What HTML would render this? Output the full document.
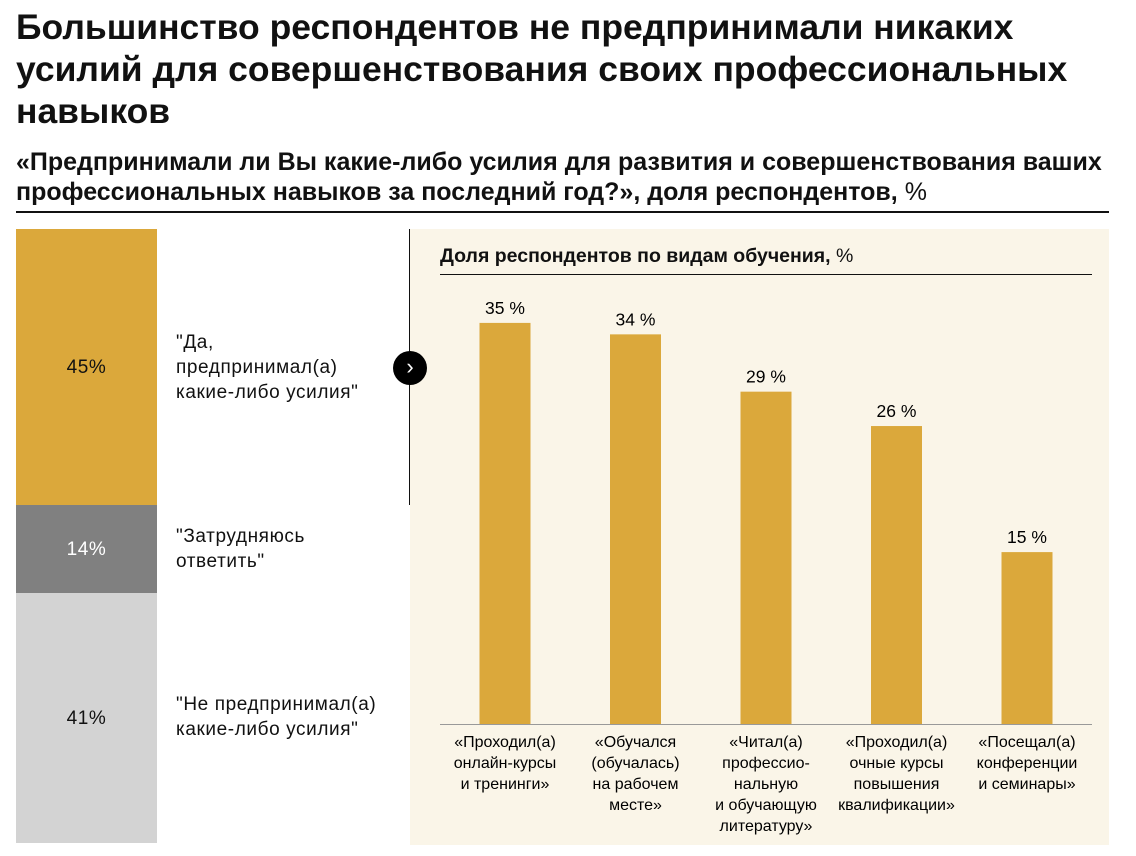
<!DOCTYPE html>
<html><head><meta charset="utf-8">
<style>
body{margin:0;width:1136px;height:856px;background:#fff;font-family:"Liberation Sans","Noto Sans CJK SC",sans-serif;color:#111;position:relative;overflow:hidden}
.abs{position:absolute}
h1{position:absolute;left:16px;top:6px;margin:0;font-size:35.5px;line-height:42px;font-weight:bold;width:1120px;white-space:nowrap}
h2{position:absolute;left:16px;top:147px;margin:0;font-size:25px;line-height:30px;font-weight:bold;width:1120px;white-space:nowrap}
.lbl{font-size:19px;line-height:25px;letter-spacing:0.6px}
</style></head><body>
<h1>Большинство респондентов не предпринимали никаких<br>усилий для совершенствования своих профессиональных<br>навыков</h1>
<h2>«Предпринимали ли Вы какие-либо усилия для развития и совершенствования ваших<br>профессиональных навыков за последний год?», доля респондентов, <span style="font-weight:normal">%</span></h2>
<div class="abs" style="left:16px;top:211px;width:1093px;height:2px;background:#111"></div>
<div class="abs" style="left:410px;top:229px;width:699px;height:616px;background:#faf5e8"></div>
<div class="abs" style="left:409px;top:229px;width:1px;height:276px;background:#111"></div>
<div class="abs" style="left:160px;top:229px;width:249px;height:276px;background:#fff"></div>
<div class="abs" style="left:393px;top:351px;width:34px;height:34px;border-radius:50%;background:#000;color:#fff;text-align:center;font-size:22px;line-height:32px">›</div>

<div class="abs" style="left:16px;top:229px;width:141px;height:276px;background:#dba83b"></div>
<div class="abs lbl" style="left:16px;top:355px;width:141px;text-align:center">45%</div>
<div class="abs" style="left:16px;top:505px;width:141px;height:88px;background:#808080"></div>
<div class="abs lbl" style="left:16px;top:537px;width:141px;text-align:center;color:#fff">14%</div>
<div class="abs" style="left:16px;top:593px;width:141px;height:250px;background:#d3d3d3"></div>
<div class="abs lbl" style="left:16px;top:706px;width:141px;text-align:center">41%</div>

<div class="abs lbl" style="left:176px;top:330px">"Да,<br>предпринимал(а)<br>какие-либо усилия"</div>
<div class="abs lbl" style="left:176px;top:524px">"Затрудняюсь<br>ответить"</div>
<div class="abs lbl" style="left:176px;top:692px">"Не предпринимал(а)<br>какие-либо усилия"</div>

<div class="abs" style="left:440px;top:245px;font-size:19.5px;font-weight:bold">Доля респондентов по видам обучения, <span style="font-weight:normal">%</span></div>
<div class="abs" style="left:440px;top:274px;width:652px;height:1px;background:#111"></div>

<svg class="abs" style="left:0;top:0" width="1136" height="856" id="chart"></svg>
<script>
const categories=["«Проходил(а) онлайн-курсы и тренинги»","«Обучался (обучалась) на рабочем месте»","«Читал(а) профессио-нальную и обучающую литературу»","«Проходил(а) очные курсы повышения квалификации»","«Посещал(а) конференции и семинары»"];
const catLines=[["«Проходил(а)","онлайн-курсы","и тренинги»"],["«Обучался","(обучалась)","на рабочем","месте»"],["«Читал(а)","профессио-","нальную","и обучающую","литературу»"],["«Проходил(а)","очные курсы","повышения","квалификации»"],["«Посещал(а)","конференции","и семинары»"]];
const values=[35,34,29,26,15];
const valueLabels=["35 %","34 %","29 %","26 %","15 %"];
const svg=document.getElementById('chart');
const NS="http://www.w3.org/2000/svg";
const baseY=724,scale=11.46,x0=440,step=130.5,barW=51;
function yPos(v){return baseY-v*scale;}
function xCenter(i){return x0+65+i*step;}
const axis=document.createElementNS(NS,'line');
axis.setAttribute('x1',440);axis.setAttribute('x2',1092);axis.setAttribute('y1',baseY+0.5);axis.setAttribute('y2',baseY+0.5);
axis.setAttribute('stroke','#999');


svg.appendChild(axis);
values.forEach((v,i)=>{
 const r=document.createElementNS(NS,'rect');
 r.setAttribute('x',xCenter(i)-barW/2);r.setAttribute('y',yPos(v));r.setAttribute('width',barW);r.setAttribute('height',baseY-yPos(v));r.setAttribute('fill','#dba83b');
 
 
 svg.appendChild(r);
 const t=document.createElementNS(NS,'text');
 t.setAttribute('x',xCenter(i));t.setAttribute('y',yPos(v)-9);t.setAttribute('text-anchor','middle');t.setAttribute('font-size','17.5');t.setAttribute('font-family','Liberation Sans, sans-serif');
 t.textContent=valueLabels[i];
 
 
 svg.appendChild(t);
 catLines[i].forEach((ln,j)=>{
  const c=document.createElementNS(NS,'text');
  c.setAttribute('x',xCenter(i));c.setAttribute('y',747+j*21);c.setAttribute('text-anchor','middle');c.setAttribute('font-size','16');c.setAttribute('font-family','Liberation Sans, sans-serif');
  c.textContent=ln;
  
  
  svg.appendChild(c);
 });
});
</script>
</body></html>
